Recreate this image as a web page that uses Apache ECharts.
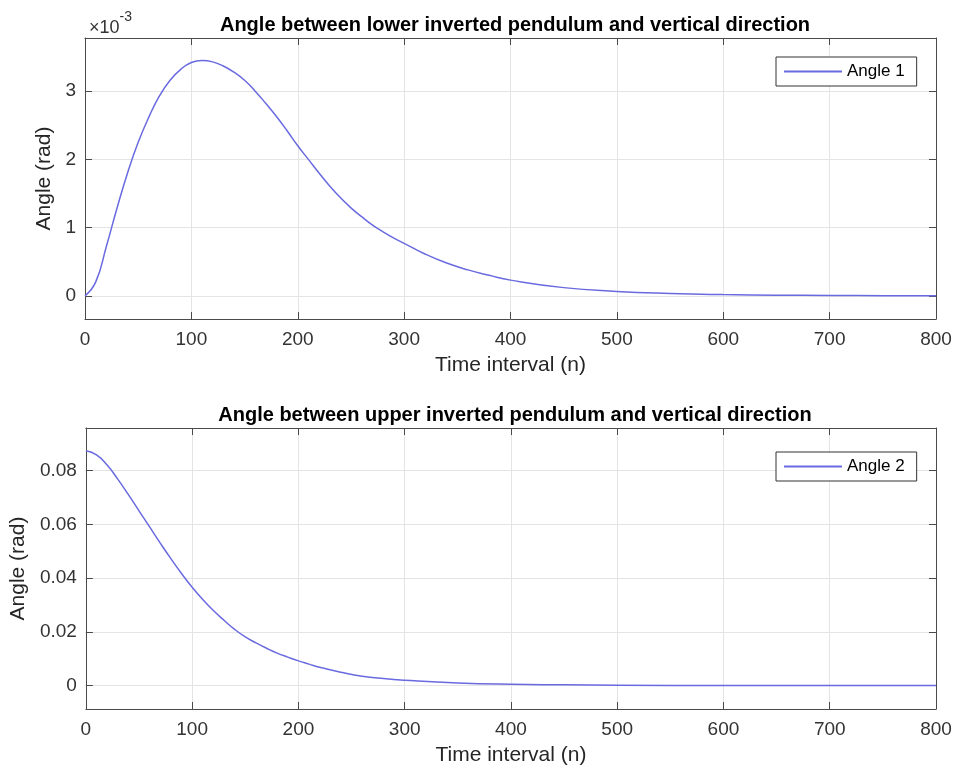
<!DOCTYPE html>
<html>
<head>
<meta charset="utf-8">
<script src="https://cdn.jsdelivr.net/npm/echarts@6/dist/echarts.min.js"></script>
<style>html,body{margin:0;padding:0;background:#fff}#c{width:956px;height:771px}</style>
</head>
<body>
<div id="c"></div>
<script>
// Time steps (n) at which values were read
var n1 = [0,10,20,30,40,50,60,70,80,90,100,110,120,130,140,150,160,170,180,190,200,210,220,230,240,250,260,270,280,290,300,320,340,360,380,400,450,500,550,600,650,700,750,800];
// Angle 1 (rad)
var angle1 = [0,0.00020,0.00072,0.00128,0.00180,0.00225,0.00262,0.00293,0.00316,0.00332,0.00342,0.00345,0.00343,0.00337,0.00328,0.00316,0.00300,0.00282,0.00263,0.00242,0.00220,0.00200,0.00180,0.00161,0.00144,0.00129,0.00116,0.00104,0.00094,0.00085,0.00077,0.00061,0.00048,0.00038,0.00030,0.00023,0.00012,0.000065,0.000035,0.000018,0.000009,0.000005,0.000002,0.000001];
var n2 = [0,10,20,30,40,50,60,70,80,90,100,110,120,130,140,150,160,170,180,190,200,210,220,240,260,280,300,350,400,450,500,600,700,800];
// Angle 2 (rad)
var angle2 = [0.0873,0.0858,0.0820,0.0768,0.0710,0.0650,0.0590,0.0530,0.0472,0.0417,0.0366,0.0320,0.0279,0.0243,0.0209,0.0181,0.0159,0.0139,0.0121,0.0106,0.0092,0.0080,0.0068,0.0050,0.0035,0.0026,0.0020,0.0010,0.0005,0.0003,0.00015,0.00003,0,0];
var xTicks = [0,100,200,300,400,500,600,700,800];
var y1Ticks = [0,0.001,0.002,0.003];
var y2Ticks = [0,0.02,0.04,0.06,0.08];
var titles = ['Angle between lower inverted pendulum and vertical direction','Angle between upper inverted pendulum and vertical direction'];
var names = ['Angle 1','Angle 2'];

function pairs(xs, ys){ return xs.map(function(x,i){return [x, ys[i]];}); }

var FONT = '"Liberation Sans", Arial, Helvetica, sans-serif';
var AX = '#4a4a4a';
var GRIDC = '#e4e4e4';
var LINEC = '#6a6ae0';

var grids = [
  {left:85, right:20, top:38, height:281},
  {left:85, right:20, top:428, height:281}
];

function xAxes(gi){
  return [
    {type:'value', gridIndex:gi, position:'bottom', min:0, max:800, interval:100,
     name:'Time interval (n)', nameLocation:'middle', nameGap:36,
     nameTextStyle:{fontFamily:FONT, fontSize:21, color:'#262626'},
     axisLine:{show:true, onZero:false, lineStyle:{color:AX, width:1}},
     axisTick:{show:true, inside:true, length:7, lineStyle:{color:AX}, customValues:xTicks},
     axisLabel:{fontFamily:FONT, fontSize:19, color:'#333', margin:11, customValues:xTicks},
     splitLine:{show:true, lineStyle:{color:GRIDC, width:1}}},
    {type:'value', gridIndex:gi, position:'top', min:0, max:800, interval:100,
     axisLine:{show:true, onZero:false, lineStyle:{color:AX, width:1}},
     axisTick:{show:true, inside:true, length:7, lineStyle:{color:AX}},
     axisLabel:{show:false}, splitLine:{show:false}}
  ];
}
function yAxes(gi, mn, mx, ticks, fmt, gap){
  return [
    {type:'value', gridIndex:gi, position:'left', min:mn, max:mx,
     name:'Angle (rad)', nameLocation:'middle', nameGap:gap, nameRotate:90,
     nameTextStyle:{fontFamily:FONT, fontSize:21, color:'#262626'},
     axisLine:{show:true, onZero:false, lineStyle:{color:AX, width:1}},
     axisTick:{show:true, inside:true, length:7, lineStyle:{color:AX}, customValues:ticks},
     axisLabel:{fontFamily:FONT, fontSize:19, color:'#333', margin:9, customValues:ticks, formatter:fmt},
     splitLine:{show:true, lineStyle:{color:GRIDC, width:1}}},
    {type:'value', gridIndex:gi, position:'right', min:mn, max:mx,
     axisLine:{show:true, onZero:false, lineStyle:{color:AX, width:1}},
     axisTick:{show:true, inside:true, length:7, lineStyle:{color:AX}, customValues:ticks},
     axisLabel:{show:false, customValues:ticks}, splitLine:{show:false}}
  ];
}

var option = {
  animation:false,
  backgroundColor:'#fff',
  title:[
    {text:titles[0], left:510, top:10, textAlign:'center',
     textStyle:{fontFamily:FONT, fontSize:20, fontWeight:'bold', color:'#000'}},
    {text:titles[1], left:510, top:400, textAlign:'center',
     textStyle:{fontFamily:FONT, fontSize:20, fontWeight:'bold', color:'#000'}},
    {text:'{a|×10}{b|-3}', left:84, top:5,
     textStyle:{fontWeight:'normal', rich:{a:{fontFamily:FONT, fontSize:18, fontWeight:'normal', color:'#333', padding:[9,0,0,0]},
                      b:{fontFamily:FONT, fontSize:14, fontWeight:'normal', color:'#333', verticalAlign:'top'}}}}
  ],
  legend:[
    {data:[names[0]], left:776, top:57, orient:'vertical', padding:[6,12,6,8],
     borderColor:'#333', borderWidth:1, backgroundColor:'#fff', itemWidth:58, itemHeight:2, itemGap:5, icon:'rect',
     textStyle:{fontFamily:FONT, fontSize:17, color:'#000'}},
    {data:[names[1]], left:776, top:452, orient:'vertical', padding:[6,12,6,8],
     borderColor:'#333', borderWidth:1, backgroundColor:'#fff', itemWidth:58, itemHeight:2, itemGap:5, icon:'rect',
     textStyle:{fontFamily:FONT, fontSize:17, color:'#000'}}
  ],
  grid:grids,
  xAxis:xAxes(0).concat(xAxes(1)),
  yAxis:yAxes(0,-0.00034,0.00378,y1Ticks,function(v){return String(Math.round(v*1000));},27)
        .concat(yAxes(1,-0.0087,0.0958,y2Ticks,function(v){return v===0?'0':v.toFixed(2);},54)),
  series:[
    {name:names[0], type:'line', xAxisIndex:0, yAxisIndex:0, data:pairs(n1,angle1),
     symbol:'none', smooth:0.5, lineStyle:{color:LINEC, width:1.5}, itemStyle:{color:LINEC}},
    {name:names[1], type:'line', xAxisIndex:2, yAxisIndex:2, data:pairs(n2,angle2),
     symbol:'none', smooth:0.5, lineStyle:{color:LINEC, width:1.5}, itemStyle:{color:LINEC}}
  ]
};
var chart = echarts.init(document.getElementById('c'), null, {renderer:'canvas'});
chart.setOption(option);
</script>
</body>
</html>
